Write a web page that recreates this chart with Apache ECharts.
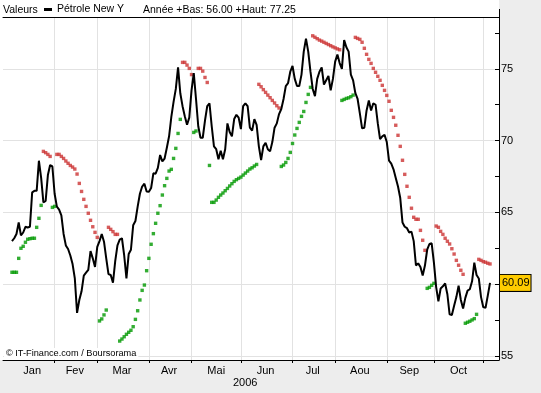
<!DOCTYPE html>
<html><head><meta charset="utf-8">
<script src="https://cdn.jsdelivr.net/npm/echarts@6/dist/echarts.min.js"></script>
<style>html,body{margin:0;padding:0;background:#ededed}#c{width:541px;height:393px}</style>
</head><body><div id="c"></div>
<script>
// ---- data ----
const monthNames = ['Jan','Fev','Mar','Avr','Mai','Jun','Jul','Aou','Sep','Oct','Nov'];
const monthDays = [19,19,23,19,22,23,19,23,21,22,8];   // trading-day slots per month
const labeledMonths = 10;
const padBefore = 4;
const yearLabel = '2006';
const yLabels = [55,60,65,70,75];
const yTicks = [55,57.5,60,62.5,65,67.5,70,72.5,75,77.5];
const seriesName = 'Pétrole New Y';
const lastValue = 60.09;

const closes = [
 63.0,63.2,63.5,64.3,63.4,63.6,64.0,63.95,64.0,66.4,66.5,66.5,68.6,67.4,65.7,65.8,67.6,68.3,68.2,
 66.3,65.4,65.2,64.8,63.5,62.7,62.45,62.0,61.4,60.4,58.0,58.9,59.5,60.6,60.8,61.0,62.3,61.8,61.2,
 62.6,63.0,63.5,62.96,61.8,60.7,60.64,60.1,61.6,62.7,63.1,63.2,62.0,60.4,62.1,62.4,64.1,64.4,65.4,66.3,66.8,67.0,66.45,
 66.44,66.7,67.72,67.7,68.1,69.0,68.55,68.75,69.5,70.3,71.66,72.7,73.6,75.1,73.3,72.4,71.7,71.1,71.6,
 73.5,74.7,72.9,71.0,70.2,70.2,71.4,72.4,72.6,71.0,69.6,69.4,68.7,69.3,68.7,69.4,71.2,70.6,70.3,71.5,71.8,71.6,
 70.8,72.4,72.6,72.4,70.9,70.7,71.5,71.1,69.6,68.65,69.6,69.85,69.4,69.25,69.9,70.9,71.2,71.85,72.2,72.9,73.8,74.0,74.8,
 75.2,74.3,73.8,73.8,74.6,76.2,77.1,76.2,74.8,73.6,73.1,74.3,74.8,75.1,73.9,74.2,74.5,73.5,74.3,
 75.5,76.0,75.4,75.0,77.0,76.5,76.2,74.6,74.2,73.3,72.9,71.9,70.85,70.9,72.1,72.8,72.1,72.6,72.5,71.2,70.1,70.3,70.4,
 69.9,68.6,68.4,68.0,67.4,66.8,66.0,64.3,64.0,63.9,63.6,63.66,63.0,61.3,61.45,61.2,60.6,61.3,62.4,62.8,62.85,
 61.5,59.8,58.8,59.7,59.85,60.05,59.3,57.9,57.85,58.5,59.1,59.9,58.9,58.3,59.05,59.55,59.65,60.2,61.5,60.64,60.4,59.1,
 58.4,58.35,59.2,60.09
];

const sar = [
 60.83,60.83,60.83,61.8,62.5,62.64,62.92,63.13,63.17,63.2,63.2,63.96,64.59,65.49,
 69.25,69.16,69.04,68.9,
 65.35,65.42,
 69.04,69.04,68.9,68.76,68.58,68.42,68.27,68.16,68.02,67.67,67.02,66.46,65.91,65.42,64.94,64.45,64.0,63.61,63.26,
 57.44,57.58,57.86,58.2,
 63.96,63.82,63.66,63.47,63.47,
 56.04,56.18,56.34,56.51,56.65,56.79,57.04,57.55,58.15,58.9,59.57,59.94,60.94,61.8,62.78,63.52,64.24,64.94,65.47,66.21,66.86,67.37,67.88,68.0,68.76,69.46,70.5,71.48,
 75.45,75.45,75.26,75.03,74.6,
 70.57,70.67,
 75.03,75.03,74.84,74.4,74.05,
 68.27,65.7,65.7,65.86,66.05,66.21,66.35,66.51,66.67,66.84,67.0,67.16,67.28,67.37,67.46,67.6,67.74,67.88,68.02,68.11,68.23,68.34,
 73.92,73.75,73.55,73.36,73.17,72.99,72.8,72.62,72.43,72.27,
 68.2,68.3,68.48,68.76,69.18,69.8,70.39,70.85,71.27,71.69,72.03,72.66,73.22,73.71,
 77.3,77.2,77.1,77.0,76.93,76.85,76.77,76.69,76.61,76.53,76.46,76.39,76.33,
 72.8,72.87,72.94,72.98,73.06,73.17,
 77.19,77.12,77.05,76.85,76.43,76.01,75.66,75.38,75.03,74.76,74.48,74.2,73.85,73.5,73.15,72.74,72.11,71.62,71.07,70.37,69.6,68.63,67.65,66.82,66.05,65.29,64.66,64.52,64.52,63.75,63.06,62.36,
 59.71,59.78,59.92,60.06,
 64.05,63.96,63.68,63.47,63.2,62.99,62.8,62.47,62.1,61.66,61.32,60.97,60.69,
 57.28,57.35,57.42,57.51,57.6,57.9,
 61.73,61.66,61.57,61.53,61.46,61.41
];
// runs of SAR side: 1 = below price (green), -1 = above price (red)
const sarRuns = [[1,14],[-1,4],[1,2],[-1,19],[1,4],[-1,5],[1,28],[-1,5],[1,2],[-1,5],
 [1,22],[-1,10],[1,14],[-1,13],[1,6],[-1,32],[1,4],[-1,13],[1,6],[-1,6]];

// ---- build ----
const categories = [];
for (let k = 0; k < padBefore; k++) categories.push('pad ' + k);
const monthStart = [], labelAt = {};
monthNames.forEach((m, mi) => {
  monthStart.push(categories.length);
  if (mi < labeledMonths) labelAt[categories.length + Math.floor(monthDays[mi] / 2)] = m;
  for (let d = 0; d < monthDays[mi]; d++) categories.push(m + ' ' + (d + 1));
});
const tickSet = new Set(monthStart.slice(1));

const lineData = closes.map((v, i) => [i + padBefore, v]);
const sarUp = [], sarDown = [];
let p = 0;
sarRuns.forEach(([side, n]) => {
  for (let k = 0; k < n; k++, p++) {
    (side > 0 ? sarUp : sarDown).push([p + padBefore, sar[p]]);
  }
});

const FONT = "'Liberation Sans', Arial, sans-serif";
const chart = echarts.init(document.getElementById('c'), null, {renderer: 'canvas'});
chart.setOption({
  animation: false,
  backgroundColor: '#ededed',
  textStyle: {fontFamily: FONT},
  title: [
    {text: 'Valeurs', left: 1, top: 3, textStyle: {fontSize: 10.5, fontWeight: 'normal', color: '#000', fontFamily: FONT}, padding: 2},
    {text: 'Année +Bas: 56.00 +Haut: 77.25', left: 141, top: 3, textStyle: {fontSize: 10.5, fontWeight: 'normal', color: '#000', fontFamily: FONT}, padding: 2},
    {text: '© IT-Finance.com / Boursorama', left: 4, top: 348, backgroundColor: '#fff', padding: [1, 2],
      textStyle: {fontSize: 9.2, fontWeight: 'normal', color: '#000', fontFamily: FONT}},
    {text: yearLabel, left: 233, top: 377, padding: 0, textStyle: {fontSize: 11, fontWeight: 'normal', color: '#000', fontFamily: FONT}}
  ],
  legend: {
    data: [seriesName], left: 44, top: 4, padding: 0, icon: 'rect', itemWidth: 8, itemHeight: 3, itemGap: 5,
    textStyle: {fontSize: 10.5, color: '#000', fontFamily: FONT}, selectedMode: false
  },
  graphic: [
    {type: 'rect', z: -10, silent: true, shape: {x: 0, y: 0, width: 499, height: 360}, style: {fill: '#fff'}},
    {type: 'line', silent: true, shape: {x1: 499.5, y1: 9, x2: 499.5, y2: 17}, style: {stroke: '#000', lineWidth: 1}}
  ],
  grid: {left: 3, right: 42, top: 17, bottom: 33, show: true, backgroundColor: '#fff', borderWidth: 0},
  xAxis: [{
    type: 'category', data: categories, boundaryGap: false,
    axisLine: {lineStyle: {color: '#000', width: 1}},
    axisTick: {show: true, interval: (i) => tickSet.has(i), length: 3, lineStyle: {color: '#000'}},
    splitLine: {show: true, interval: (i) => tickSet.has(i), lineStyle: {color: '#e2e2e2', width: 1}},
    axisLabel: {interval: (i) => labelAt[i] !== undefined, formatter: (v) => v.split(' ')[0], margin: 5,
      fontSize: 11, color: '#000', fontFamily: FONT}
  }, {
    type: 'category', data: categories, boundaryGap: false, position: 'top',
    axisLine: {lineStyle: {color: '#000', width: 1}}, axisTick: {show: false}, axisLabel: {show: false}, splitLine: {show: false}
  }],
  yAxis: [{
    type: 'value', position: 'right', min: 54.72, max: 78.61, scale: true,
    axisLine: {show: true, lineStyle: {color: '#000'}},
    axisTick: {show: true, inside: true, length: 4, customValues: yTicks, lineStyle: {color: '#000'}},
    axisLabel: {show: false}, splitLine: {show: false}
  }, {
    type: 'value', position: 'right', min: 54.72, max: 78.61, scale: true,
    axisLine: {show: false}, axisTick: {show: false, customValues: yLabels},
    axisLabel: {show: true, customValues: yLabels, margin: 2, fontSize: 11, color: '#000', fontFamily: FONT},
    splitLine: {show: true, lineStyle: {color: '#e2e2e2', width: 1}}
  }],
  series: [{
    name: seriesName, type: 'line', data: lineData, showSymbol: false, symbol: 'none',
    lineStyle: {color: '#000', width: 2}, itemStyle: {color: '#000'}, z: 4,
    markLine: {
      silent: true, symbol: 'none', lineStyle: {color: 'rgba(0,0,0,0)', width: 1, type: 'solid'},
      data: [{yAxis: lastValue}],
      label: {show: true, position: 'end', distance: 1, formatter: () => lastValue.toFixed(2),
        backgroundColor: '#ffcc00', borderColor: '#000', borderWidth: 1, padding: [3, 1, 2, 2],
        color: '#000', fontSize: 11, fontFamily: FONT}
    }
  }, {
    name: 'SAR haut', type: 'scatter', data: sarUp, symbol: 'rect', symbolSize: 3.4,
    itemStyle: {color: '#009900'}, z: 3
  }, {
    name: 'SAR bas', type: 'scatter', data: sarDown, symbol: 'rect', symbolSize: 3.4,
    itemStyle: {color: '#cc3333'}, z: 3
  }]
});
</script></body></html>
